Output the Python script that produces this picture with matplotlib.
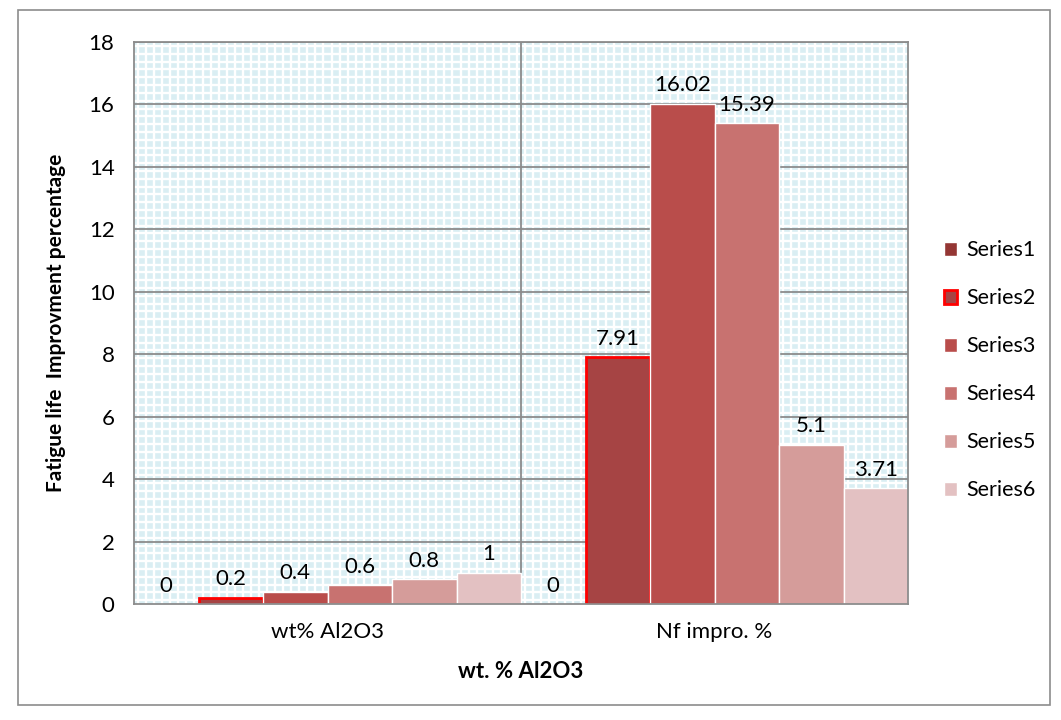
import numpy as np
import matplotlib
matplotlib.use('Agg')
import matplotlib.pyplot as plt
from matplotlib.patches import Rectangle

plt.rcParams['font.family'] = ['Lato', 'DejaVu Sans']

# data
categories = ['wt% Al2O3', 'Nf impro. %']
series_names = ['Series1', 'Series2', 'Series3', 'Series4', 'Series5', 'Series6']
series_values = [
    [0, 0],
    [0.2, 7.91],
    [0.4, 16.02],
    [0.6, 15.39],
    [0.8, 5.1],
    [1, 3.71],
]
label_text = [
    ['0', '0'],
    ['0.2', '7.91'],
    ['0.4', '16.02'],
    ['0.6', '15.39'],
    ['0.8', '5.1'],
    ['1', '3.71'],
]
colors = ['#943634', '#A64444', '#B94D4B', '#C87270', '#D59C9A', '#E3C1C2']
edges = ['white', '#FF0000', 'white', 'white', 'white', 'white']
y_ticks = np.arange(0, 19, 2)

fig = plt.figure(figsize=(10.61, 7.2), dpi=100)
fig.patches.append(Rectangle((18/1061, 1-705/720), 1032/1061, 695/720, transform=fig.transFigure,
                             fill=False, edgecolor='#8C8C8C', linewidth=1.2))
ax = fig.add_axes([134/1061, 1-604/720, 774/1061, 562/720])

# patterned background (light blue with white small grid)
ax.set_facecolor('#DAEEF3')
ax.hlines(np.arange(0.12, 18, 0.25), -0.5, 1.5, colors='white', linewidth=1.7, zorder=0.5)
ax.vlines(np.arange(-0.5 + 1/96, 1.5, 1/48), 0, 18, colors='white', linewidth=1.7, zorder=0.5)

# major grid
for v in y_ticks[1:]:
    ax.axhline(v, color='#8C8C8C', linewidth=1.3, zorder=1)
ax.axvline(0.5, color='#8C8C8C', linewidth=1.3, zorder=1)

x = np.arange(len(categories))
n = len(series_names)
w = 1.0 / n
handles = []
for i in range(n):
    pos = x - 0.5 + w * (i + 0.5)
    lw = 2.0 if edges[i] != 'white' else 1.0
    b = ax.bar(pos, series_values[i], width=w, color=colors[i], edgecolor=edges[i],
               linewidth=lw, zorder=3, label=series_names[i])
    handles.append(b)
    for p, v, t in zip(pos, series_values[i], label_text[i]):
        ax.annotate(t, (p, v), xytext=(0, 6), textcoords='offset points',
                    ha='center', va='bottom', fontsize=16, color='black', zorder=5)

ax.set_xlim(-0.5, 1.5)
ax.set_ylim(0, 18)
ax.set_yticks(y_ticks)
ax.set_xticks(x)
ax.set_xticklabels(categories)
ax.tick_params(axis='y', length=0, pad=14, labelsize=16)
ax.tick_params(axis='x', length=0, pad=13, labelsize=16)
for s in ax.spines.values():
    s.set_color('#8C8C8C')
    s.set_linewidth(1.3)
    s.set_zorder(4)

ax.set_ylabel('Fatigue life  Improvment percentage', fontsize=15, fontweight='bold', labelpad=16)
ax.set_xlabel('wt. % Al2O3', fontsize=16, fontweight='bold', labelpad=14)

fig.legend(handles=handles, labels=series_names, loc='upper left',
           bbox_to_anchor=(925/1061, 1-221/720), frameon=False, fontsize=15.5,
           handlelength=0.6, handleheight=0.6, handletextpad=0.4, labelspacing=1.3)

fig.savefig('out.png', dpi=100)
